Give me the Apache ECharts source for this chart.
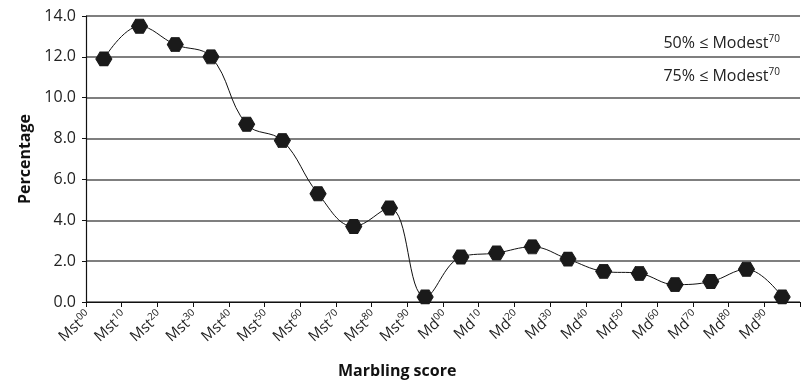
<!DOCTYPE html>
<html><head><meta charset="utf-8">
<script src="https://cdn.jsdelivr.net/npm/echarts@6/dist/echarts.min.js"></script>
<style>html,body{margin:0;padding:0;background:#fff}#c{width:807px;height:383px}</style>
</head><body><div id="c"></div>
<script>
const prefixes = ['Mst','Mst','Mst','Mst','Mst','Mst','Mst','Mst','Mst','Mst','Md','Md','Md','Md','Md','Md','Md','Md','Md','Md'];
const sups = ['00','10','20','30','40','50','60','70','80','90','00','10','20','30','40','50','60','70','80','90'];
const categories = prefixes.map((p,i)=>p+sups[i]);
const percentage = [11.9,13.5,12.6,12.0,8.7,7.9,5.3,3.7,4.6,0.25,2.2,2.4,2.7,2.1,1.5,1.4,0.85,1.0,1.6,0.25];
const yTicks = [0,2,4,6,8,10,12,14];
const annotations = ['50% ≤ Modest', '75% ≤ Modest'];
const annotationSup = '70';
const xTitle = 'Marbling score';
const yTitle = 'Percentage';

const FONT = '"Open Sans", "Noto Sans", sans-serif';
const hex = 'path://M0,5 L2.6,0.5 L7.4,0.5 L10,5 L7.4,9.5 L2.6,9.5 Z';
const supRich = (size, sub) => ({
  a:{fontSize:size,fontFamily:FONT,fill:'#222',color:'#222'},
  s:{fontSize:sub,fontFamily:FONT,fill:'#222',color:'#222',verticalAlign:'bottom',padding:[0,0,8,0]}
});
const chart = echarts.init(document.getElementById('c'));
chart.setOption({
  backgroundColor:'#fff',
  animation:false,
  grid:{left:86,right:7,top:16,bottom:81},
  xAxis:{
    type:'category', data:categories, boundaryGap:true,
    axisLine:{show:true,lineStyle:{color:'#111',width:1.2}},
    axisTick:{show:true,length:5,interval:0,lineStyle:{color:'#111'}},
    axisLabel:{show:false},
    splitLine:{show:false}
  },
  yAxis:{
    type:'value', min:yTicks[0], max:yTicks[yTicks.length-1], interval:2,
    name:yTitle, nameLocation:'middle', nameGap:53,
    nameTextStyle:{fontFamily:FONT,fontWeight:'bold',fontSize:16,color:'#111'},
    axisLine:{show:true,lineStyle:{color:'#111',width:1.2}},
    axisTick:{show:true,length:4,lineStyle:{color:'#111'}},
    axisLabel:{formatter:v=>v.toFixed(1),fontFamily:FONT,fontSize:16,color:'#222',margin:10},
    splitLine:{show:true,lineStyle:{color:'#555',width:1.5}}
  },
  series:[{
    type:'line', data:percentage, smooth:0.4,
    symbol:hex, symbolSize:[16,14],
    lineStyle:{color:'#111',width:1},
    itemStyle:{color:'#1a1a1a',borderColor:'#1a1a1a'}
  }]
});

// x labels anchored at the band boundaries (left tick of each category), via the axis scale
const x0 = chart.convertToPixel({xAxisIndex:0}, categories[0]);
const x1 = chart.convertToPixel({xAxisIndex:0}, categories[1]);
const half = (x1 - x0) / 2;
const yBase = chart.convertToPixel({yAxisIndex:0}, yTicks[0]);
const graphics = [];
categories.forEach((c,i)=>{
  const cx = chart.convertToPixel({xAxisIndex:0}, c);
  graphics.push({
    type:'text', x: cx - half + 3, y: yBase + 12, rotation: 42*Math.PI/180,
    style:{text:'{a|'+prefixes[i]+'}{s|'+sups[i]+'}', align:'right', verticalAlign:'middle', rich:supRich(15,10)}
  });
});
annotations.forEach((t,i)=>{
  graphics.push({type:'text', right:27, top:34+i*33,
    style:{text:'{a|'+t+'}{s|'+annotationSup+'}', rich:supRich(16,10)}});
});
graphics.push({type:'text', left:338, top:363,
  style:{text:xTitle, fontFamily:FONT, fontWeight:'bold', fontSize:16, fill:'#111'}});
chart.setOption({graphic:graphics});
</script></body></html>
